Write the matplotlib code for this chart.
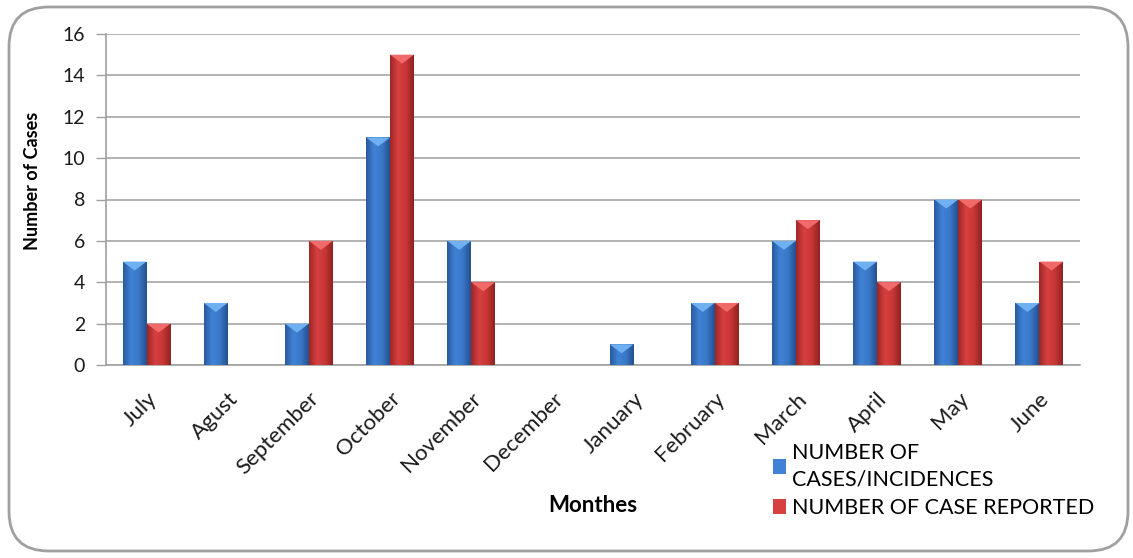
import numpy as np
import matplotlib
matplotlib.use("Agg")
import matplotlib.pyplot as plt
from matplotlib.patches import FancyBboxPatch, Polygon
from matplotlib.colors import LinearSegmentedColormap

plt.rcParams['font.family'] = ['Lato', 'DejaVu Sans']

months = ["July", "Agust", "September", "October", "November", "December",
          "January", "February", "March", "April", "May", "June"]
incidences = [5, 3, 2, 11, 6, 0, 1, 3, 6, 5, 8, 3]
reported = [2, 0, 6, 15, 4, 0, 0, 3, 7, 4, 8, 5]
y_ticks = [0, 2, 4, 6, 8, 10, 12, 14, 16]

series_labels = ["NUMBER OF\nCASES/INCIDENCES", "NUMBER OF CASE REPORTED"]
blue_shades = ["#2a5a9e", "#3f82d6", "#3a78c8", "#24508f"]
red_shades = ["#9e2626", "#d64040", "#c83636", "#8f2222"]

W, H = 1133, 558
fig = plt.figure(figsize=(W / 100, H / 100), dpi=100)
ax = fig.add_axes([106 / W, 1 - 365 / H, (1080 - 106) / W, (365 - 34) / H])

x = np.arange(len(months))
bw = 0.295
bars_a = ax.bar(x - bw / 2, incidences, bw, color=blue_shades[2], zorder=3,
                label=series_labels[0], edgecolor="none")
bars_b = ax.bar(x + bw / 2, reported, bw, color=red_shades[2], zorder=3,
                label=series_labels[1], edgecolor="none")

ax.set_xlim(-0.5, len(months) - 0.5)
ax.set_ylim(0, 16)
ax.set_yticks(y_ticks)
ax.tick_params(axis='y', labelsize=14, length=7, color="#a0a0a0", width=1,
               labelcolor="#1a1a1a", pad=8)
ax.set_xticks(x)
ax.set_xticklabels(months, rotation=45, ha='right', rotation_mode='anchor',
                   fontsize=16, color="#1a1a1a")
ax.tick_params(axis='x', length=0, pad=17)
ax.grid(axis='y', color="#a6a6a6", linewidth=1.2, zorder=0)
for s in ['top', 'right']:
    ax.spines[s].set_visible(False)
ax.spines['left'].set_color("#a0a0a0")
ax.spines['bottom'].set_color("#a0a0a0")
ax.spines['left'].set_linewidth(1.2)
ax.spines['bottom'].set_linewidth(1.2)
ax.set_axisbelow(True)

fig.text(32 / W, 1 - 181 / H, "Number of Cases", fontsize=13,
         fontweight='bold', rotation=90, ha='center', va='center')

fig.canvas.draw()


def shade_bars(bars, shades, tip_color):
    cmap = LinearSegmentedColormap.from_list("s", shades)
    grad = np.linspace(0, 1, 64).reshape(1, -1)
    inv = ax.transData.inverted()
    for b in bars:
        h = b.get_height()
        if h <= 0:
            continue
        x0 = b.get_x()
        x1 = x0 + b.get_width()
        im = ax.imshow(grad, cmap=cmap, aspect='auto', extent=(x0, x1, 0, h),
                       zorder=3.5, interpolation='bicubic')
        im.set_clip_path(b)
        # light chevron at the bar top
        _, ytop_px = ax.transData.transform((x0, h))
        _, ydn = inv.transform((0, ytop_px - 9))
        tri = Polygon([(x0, h), (x1, h), ((x0 + x1) / 2, ydn)], closed=True,
                      facecolor=tip_color, edgecolor="none", zorder=4)
        ax.add_patch(tri)


shade_bars(bars_a, blue_shades, "#6fb0f0")
shade_bars(bars_b, red_shades, "#f06a6a")
ax.set_xlim(-0.5, len(months) - 0.5)
ax.set_ylim(0, 16)

fig.text(593 / W, 1 - 505 / H, "Monthes", fontsize=16, fontweight='bold',
         ha='center', va='center')

leg = fig.legend(handles=[bars_a, bars_b], labels=series_labels,
                 loc='upper left', bbox_to_anchor=(762 / W, 1 - 432 / H),
                 frameon=False, fontsize=15.5, handlelength=0.6,
                 handleheight=0.65, handletextpad=0.3, labelspacing=0.42,
                 borderpad=0)
leg.legend_handles[0].set_facecolor(blue_shades[1])
leg.legend_handles[1].set_facecolor(red_shades[1])
for t in leg.get_texts():
    t.set_linespacing(1.4)

border = FancyBboxPatch((9 / W, 7 / H), (1128 - 9) / W, (551 - 7) / H,
                        boxstyle="round,pad=0,rounding_size=0.035",
                        transform=fig.transFigure, facecolor="none",
                        edgecolor="#a0a0a0", linewidth=2,
                        mutation_aspect=W / H)
fig.patches.append(border)

fig.savefig("out.png", dpi=100)
